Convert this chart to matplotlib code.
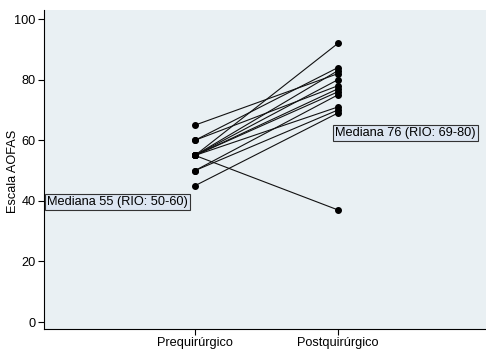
import matplotlib
matplotlib.use("Agg")
import matplotlib.pyplot as plt

plt.rcParams['font.family'] = ['Liberation Sans', 'DejaVu Sans']

categories = ["Prequirúrgico", "Postquirúrgico"]
pre = [65, 60, 60, 55, 55, 55, 55, 55, 55, 55, 50, 50, 45]
post = [82, 84, 78, 92, 83, 80, 77, 76, 71, 37, 75, 70, 69]
yticks = [0, 20, 40, 60, 80, 100]
label_pre = "Mediana 55 (RIO: 50-60)"
label_post = "Mediana 76 (RIO: 69-80)"

fig = plt.figure(figsize=(4.86, 3.51), dpi=100)
ax = fig.add_axes([44/486, (351-329)/351, (486-44)/486, (329-10)/351])
bg = '#e9f0f3'
ax.set_facecolor(bg)

for a, b in zip(pre, post):
    ax.plot([1, 2], [a, b], color='#111111', lw=0.8, marker='o', ms=4, mfc='black', mec='black')

ax.set_xlim(1 - 151/143, 2 + 148/143)
ax.set_ylim(-2.3, 103)
ax.set_xticks([1, 2])
ax.set_xticklabels(categories, fontsize=9.2)
ax.set_yticks(yticks)
ax.set_yticklabels([str(t) for t in yticks], fontsize=9.2)
ax.set_ylabel("Escala AOFAS", fontsize=9.2, va='center')
ax.yaxis.set_label_coords(-31/442, (329 - 171) / 319)
ax.spines['top'].set_visible(False)
ax.spines['right'].set_visible(False)
ax.tick_params(length=4, width=0.8, color='black', pad=2)

box = dict(boxstyle='square,pad=0.15', facecolor='#dde6f2', edgecolor='#333333', lw=0.8)
ax.text(1 - 148/143, 39.5, label_pre, fontsize=9.2, va='center', ha='left', bbox=box)
ax.text(2 - 3/143, 62.5, label_post, fontsize=9.2, va='center', ha='left', bbox=box)

fig.savefig("out.png", dpi=100)
